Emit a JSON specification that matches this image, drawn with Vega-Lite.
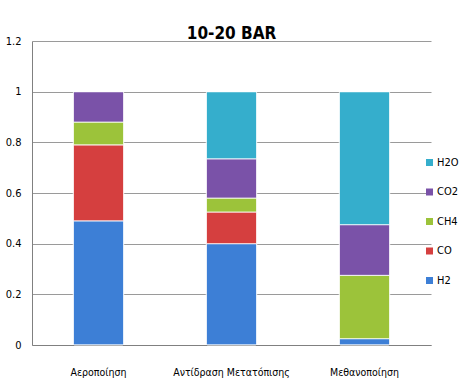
{
  "$schema": "https://vega.github.io/schema/vega-lite/v6.json",
  "width": 399,
  "height": 304,
  "autosize": {"type": "none"},
  "padding": {"left": 32, "top": 41, "right": 34, "bottom": 45},
  "background": "white",
  "title": {
    "text": "10-20 BAR",
    "font": "DejaVu Sans Condensed, sans-serif",
    "fontSize": 17,
    "fontWeight": "bold",
    "color": "#000000",
    "anchor": "middle",
    "frame": "group",
    "baseline": "alphabetic",
    "offset": -21
  },
  "config": {
    "view": {"stroke": null},
    "font": "DejaVu Sans Condensed, sans-serif"
  },
  "data": {
    "values": [
      {"process": "Αεροποίηση", "gas": "H2", "value": 0.49},
      {"process": "Αεροποίηση", "gas": "CO", "value": 0.30},
      {"process": "Αεροποίηση", "gas": "CH4", "value": 0.09},
      {"process": "Αεροποίηση", "gas": "CO2", "value": 0.12},
      {"process": "Αντίδραση Μετατόπισης", "gas": "H2", "value": 0.40},
      {"process": "Αντίδραση Μετατόπισης", "gas": "CO", "value": 0.125},
      {"process": "Αντίδραση Μετατόπισης", "gas": "CH4", "value": 0.055},
      {"process": "Αντίδραση Μετατόπισης", "gas": "CO2", "value": 0.155},
      {"process": "Αντίδραση Μετατόπισης", "gas": "H2O", "value": 0.265},
      {"process": "Μεθανοποίηση", "gas": "H2", "value": 0.025},
      {"process": "Μεθανοποίηση", "gas": "CH4", "value": 0.25},
      {"process": "Μεθανοποίηση", "gas": "CO2", "value": 0.20},
      {"process": "Μεθανοποίηση", "gas": "H2O", "value": 0.525}
    ]
  },
  "transform": [
    {"calculate": "indexof(['H2','CO','CH4','CO2','H2O'], datum.gas)", "as": "stackOrder"}
  ],
  "mark": {"type": "bar", "stroke": "#ffffff", "strokeWidth": 0.8, "cornerRadius": 1.5},
  "encoding": {
    "x": {
      "field": "process",
      "type": "nominal",
      "sort": null,
      "scale": {"paddingInner": 0.62, "paddingOuter": 0.31},
      "axis": {
        "title": null,
        "labelAngle": 0,
        "ticks": false,
        "labelPadding": 22,
        "labelFontSize": 10.5,
        "labelColor": "#000000",
        "domainColor": "#808080",
        "grid": false
      }
    },
    "y": {
      "field": "value",
      "type": "quantitative",
      "stack": "zero",
      "scale": {"domain": [0, 1.2], "nice": false},
      "axis": {
        "title": null,
        "values": [0, 0.2, 0.4, 0.6, 0.8, 1, 1.2],
        "format": ".1~f",
        "ticks": false,
        "labelPadding": 11,
        "labelFontSize": 11,
        "labelColor": "#000000",
        "domainColor": "#808080",
        "gridColor": "#9a9a9a",
        "gridWidth": 1
      }
    },
    "order": {"field": "stackOrder", "type": "quantitative", "sort": "ascending"},
    "color": {
      "field": "gas",
      "type": "nominal",
      "scale": {
        "domain": ["H2", "CO", "CH4", "CO2", "H2O"],
        "range": ["#3d7fd6", "#d53f3f", "#9cc33a", "#7a52a8", "#35aecc"]
      },
      "legend": {
        "title": null,
        "orient": "none",
        "legendX": 392,
        "legendY": 116,
        "values": ["H2O", "CO2", "CH4", "CO", "H2"],
        "symbolType": "square",
        "symbolSize": 49,
        "symbolStrokeWidth": 0,
        "rowPadding": 17.5,
        "labelFontSize": 11,
        "labelColor": "#000000",
        "labelOffset": 2
      }
    }
  }
}
